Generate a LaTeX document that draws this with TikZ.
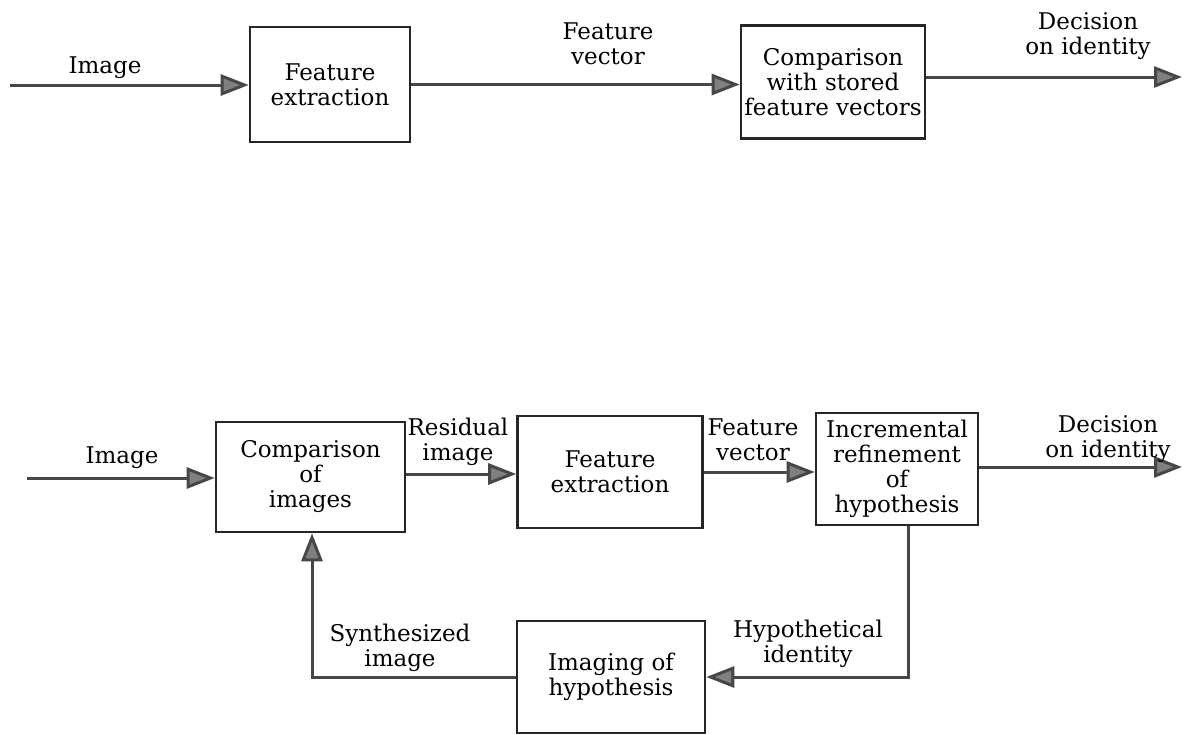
\documentclass[tikz,border=0pt]{standalone}
\usepackage{fontspec}
\setmainfont{DejaVu Serif}
\usetikzlibrary{arrows.meta}
\tikzset{
  block/.style={draw=black!85, line width=2.6pt, rectangle, align=center,
    font=\fontsize{23}{25}\selectfont, inner sep=0pt},
  lbl/.style={align=center, font=\fontsize{23}{25}\selectfont, inner sep=0pt},
  flow/.style={draw=black!72, line width=3pt,
    -{Triangle[length=28pt,width=21pt,fill=black!50]}},
  wire/.style={draw=black!72, line width=3pt}
}
\begin{document}
\begin{tikzpicture}[x=1pt,y=-1pt]
  \useasboundingbox (0,0) rectangle (1191,734);

  % ---- upper chain: direct feature comparison ----
  \node[block, minimum width=160pt, minimum height=115pt] (fe1) at (330,84.5) {Feature\\extraction};
  \node[block, minimum width=184pt, minimum height=113pt] (cmp1) at (833,82) {Comparison\\with stored\\feature vectors};
  \coordinate (in1) at (10,85);
  \coordinate (out1) at (1182,77);

  \draw[flow] (in1) -- (in1 -| fe1.west);
  \draw[flow] (fe1.east) -- (fe1.east -| cmp1.west);
  \draw[flow] (cmp1.east |- out1) -- (out1);

  \node[lbl] (limg1) at (105,68) {Image};
  \node[lbl] (lfv1) at (608,44) {Feature\\vector};
  \node[lbl] (ldec1) at (1088,36) {Decision\\on identity};

  % ---- lower chain: analysis by synthesis ----
  \node[block, minimum width=189pt, minimum height=110pt] (cmpimg) at (310.5,477) {Comparison\\of\\images};
  \node[block, minimum width=185pt, minimum height=112pt] (fe2) at (610,472) {Feature\\extraction};
  \node[block, minimum width=162pt, minimum height=112pt] (inc) at (897,469) {Incremental\\refinement\\of\\hypothesis};
  \node[block, minimum width=188pt, minimum height=112pt] (imh) at (611,677) {Imaging of\\hypothesis};
  \coordinate (in2) at (27,478);
  \coordinate (out2) at (1182,467);

  \draw[flow] (in2) -- (in2 -| cmpimg.west);
  \draw[flow] (cmpimg.east |- 0,474) -- (fe2.west |- 0,474);
  \draw[flow] (fe2.east) -- (fe2.east -| inc.west);
  \draw[flow] (inc.east |- out2) -- (out2);
  \draw[flow] ([xshift=11pt]inc.south) |- (imh.east);
  \draw[flow] (imh.west) -| ([xshift=1.5pt]cmpimg.south);

  \node[lbl] (limg2) at (122,458) {Image};
  \node[lbl] (lres) at (458,442) {Residual\\image};
  \node[lbl] (lfv2) at (753,440) {Feature\\vector};
  \node[lbl] (ldec2) at (1108,439) {Decision\\on identity};
  \node[lbl] (lhyp) at (808,644) {Hypothetical\\identity};
  \node[lbl] (lsyn) at (400,648) {Synthesized\\image};
\end{tikzpicture}
\end{document}
